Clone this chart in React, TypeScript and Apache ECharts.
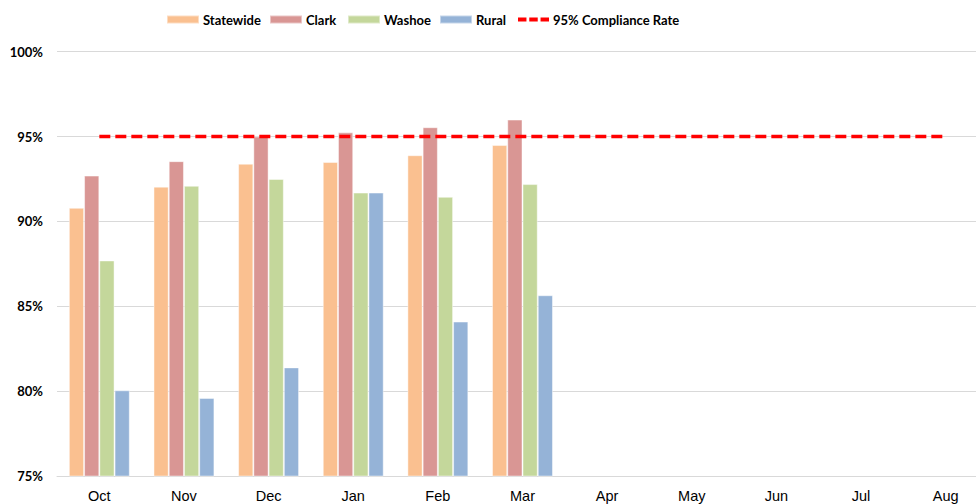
import React, { useEffect, useRef } from "react";
import * as echarts from "echarts";

const months = ["Oct", "Nov", "Dec", "Jan", "Feb", "Mar", "Apr", "May", "Jun", "Jul", "Aug"];
const statewide = [90.8, 92.05, 93.4, 93.5, 93.9, 94.5, null, null, null, null, null];
const clark = [92.7, 93.55, 95.0, 95.25, 95.55, 96.0, null, null, null, null, null];
const washoe = [87.7, 92.1, 92.5, 91.7, 91.45, 92.2, null, null, null, null, null];
const rural = [80.05, 79.6, 81.4, 91.7, 84.1, 85.65, null, null, null, null, null];
const complianceRate = [95, 95, 95, 95, 95, 95, 95, 95, 95, 95, 95];

const seriesNames = ["Statewide", "Clark", "Washoe", "Rural", "95% Compliance Rate"];
const legendLefts = [166, 269, 347, 439, 518];

const AXIS_FONT = "'Liberation Sans', Arial, sans-serif";
const LABEL_FONT = "Lato, 'Liberation Sans', sans-serif";

export default function App() {
  const ref = useRef<HTMLDivElement>(null);
  useEffect(() => {
    if (!ref.current) return;
    const chart = echarts.init(ref.current, null, { renderer: "svg" });
    const barStyle = (color: string) => ({
      color,
      borderColor: "rgba(255,255,255,0.45)",
      borderWidth: 1,
    });
    const dashIcon = "path://M0,0h9v4h-9z M12,0h9v4h-9z M24,0h9v4h-9z";
    chart.setOption({
      animation: false,
      backgroundColor: "#ffffff",
      textStyle: { fontFamily: AXIS_FONT },
      legend: seriesNames.map((name, i) => ({
        top: 13,
        left: legendLefts[i],
        padding: 0,
        itemWidth: i === 4 ? 31 : 32,
        itemHeight: i === 4 ? 4 : 8,
        selectedMode: false,
        textStyle: {
          fontFamily: LABEL_FONT,
          fontWeight: "bold",
          fontSize: 13,
          color: "#000",
          padding: [0, 0, 0, -1],
        },
        data: [{ name, icon: i === 4 ? dashIcon : "rect" }],
      })),
      grid: { left: 57, right: 0, top: 51.7, bottom: 28 },
      xAxis: {
        type: "category",
        data: months,
        axisTick: { show: false },
        axisLine: { lineStyle: { color: "#d9d9d9", width: 1 } },
        axisLabel: {
          color: "#000",
          fontWeight: "normal",
          fontSize: 14.5,
          fontFamily: AXIS_FONT,
          margin: 12,
        },
      },
      yAxis: {
        type: "value",
        min: 75,
        max: 100,
        interval: 5,
        axisLine: { show: false },
        axisTick: { show: false },
        splitLine: { lineStyle: { color: "#d9d9d9", width: 1 } },
        axisLabel: {
          formatter: "{value}%",
          color: "#000",
          fontWeight: "bold",
          fontSize: 13,
          fontFamily: LABEL_FONT,
          margin: 14,
        },
      },
      series: [
        { name: "Statewide", type: "bar", data: statewide, barGap: "0%", barCategoryGap: "28%", itemStyle: barStyle("#FAC090") },
        { name: "Clark", type: "bar", data: clark, barGap: "0%", barCategoryGap: "28%", itemStyle: barStyle("#D99694") },
        { name: "Washoe", type: "bar", data: washoe, barGap: "0%", barCategoryGap: "28%", itemStyle: barStyle("#C4D79B") },
        { name: "Rural", type: "bar", data: rural, barGap: "0%", barCategoryGap: "28%", itemStyle: barStyle("#95B3D7") },
        {
          name: "95% Compliance Rate",
          type: "line",
          data: complianceRate,
          symbol: "none",
          itemStyle: { color: "#FF0000" },
          lineStyle: { color: "#FF0000", width: 3.5, type: [11, 5] },
          z: 5,
        },
      ],
    });
    return () => chart.dispose();
  }, []);
  return (
    <div
      style={{
        position: "absolute",
        left: 0,
        top: 0,
        width: 976,
        height: 504,
        overflow: "hidden",
      }}
    >
      <div ref={ref} style={{ width: 988, height: 504 }} />
    </div>
  );
}
